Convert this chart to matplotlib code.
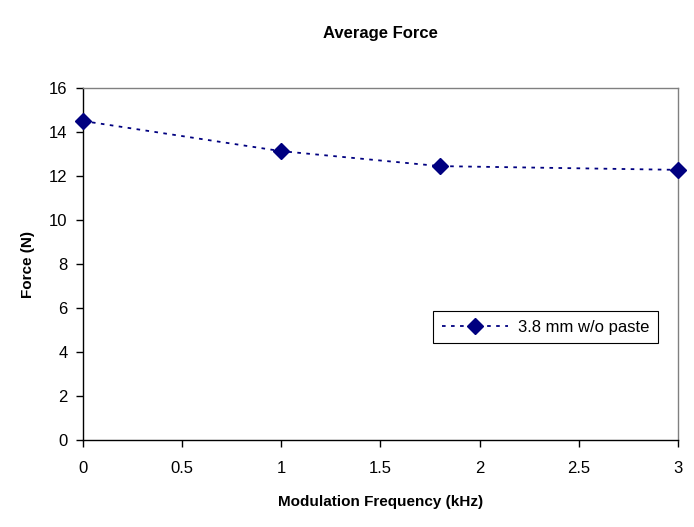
import matplotlib
matplotlib.use("Agg")
import matplotlib.pyplot as plt

# data
freq = [0, 1, 1.8, 3]
force = [14.5, 13.13, 12.45, 12.28]
series_name = "3.8 mm w/o paste"

plt.rcParams['font.family'] = ['Liberation Sans', 'DejaVu Sans']

fig = plt.figure(figsize=(6.94, 5.27), dpi=100)
ax = fig.add_axes([0.1196, 0.165, 0.857, 0.668])

ax.plot(freq, force, color='#000080', linestyle=(0, (2, 3)), linewidth=1.3,
        marker='D', markersize=8.5, markerfacecolor='#000080', markeredgecolor='#000080',
        label=series_name, clip_on=False, zorder=5)

ax.set_xlim(0, 3)
ax.set_ylim(0, 16)
ax.set_xticks([0, 0.5, 1, 1.5, 2, 2.5, 3])
ax.set_xticklabels(['0', '0.5', '1', '1.5', '2', '2.5', '3'])
ax.set_yticks(range(0, 17, 2))
ax.tick_params(direction='out', length=5, width=1, labelsize=12, pad=6)
ax.tick_params(axis='x', pad=10)
for s in ax.spines.values():
    s.set_linewidth(1)
    s.set_color('black')
ax.spines['top'].set_color('#808080')
ax.spines['right'].set_color('#808080')

fig.text(0.548, 0.937, "Average Force", ha='center', va='center', fontsize=12, fontweight='bold')
ax.set_xlabel("Modulation Frequency (kHz)", fontsize=11, fontweight='bold', labelpad=14)
ax.set_ylabel("Force (N)", fontsize=11, fontweight='bold', labelpad=10)

leg = ax.legend(loc='lower left', bbox_to_anchor=(0.575, 0.252), fancybox=False,
                edgecolor='black', framealpha=1, fontsize=12, borderpad=0.5,
                handlelength=4.0, handletextpad=0.6)
leg.get_frame().set_linewidth(0.8)

fig.savefig("out.png", dpi=100)
